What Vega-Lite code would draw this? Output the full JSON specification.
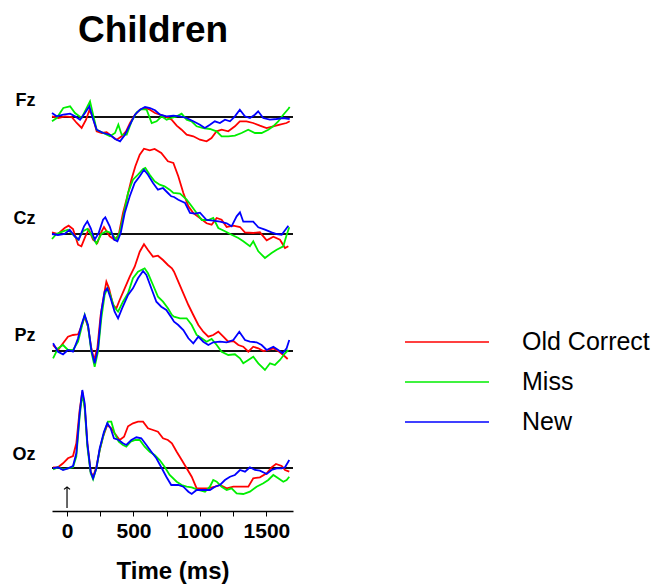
{
"$schema": "https://vega.github.io/schema/vega-lite/v6.json",
"padding": {"left": 11, "top": 12, "right": 2, "bottom": 5},
"title": {"text": "Children", "font": "Liberation Sans", "fontSize": 37, "fontWeight": "bold", "color": "black", "anchor": "start", "dx": 66, "offset": -7},
"data": {"values": [
{"ch":"Fz","cond":"Old Correct","t":-113,"v":0.07},{"ch":"Fz","cond":"Old Correct","t":-65,"v":-0.1},{"ch":"Fz","cond":"Old Correct","t":-15,"v":0.07},{"ch":"Fz","cond":"Old Correct","t":35,"v":0},{"ch":"Fz","cond":"Old Correct","t":73,"v":-0.6},{"ch":"Fz","cond":"Old Correct","t":110,"v":-1.1},{"ch":"Fz","cond":"Old Correct","t":143,"v":-0.27},{"ch":"Fz","cond":"Old Correct","t":168,"v":0.67},{"ch":"Fz","cond":"Old Correct","t":193,"v":0.07},{"ch":"Fz","cond":"Old Correct","t":223,"v":-1.43},{"ch":"Fz","cond":"Old Correct","t":261,"v":-1.6},{"ch":"Fz","cond":"Old Correct","t":298,"v":-1.53},{"ch":"Fz","cond":"Old Correct","t":336,"v":-1.93},{"ch":"Fz","cond":"Old Correct","t":374,"v":-2.27},{"ch":"Fz","cond":"Old Correct","t":411,"v":-1.93},{"ch":"Fz","cond":"Old Correct","t":444,"v":-1.43},{"ch":"Fz","cond":"Old Correct","t":474,"v":-0.6},{"ch":"Fz","cond":"Old Correct","t":511,"v":0.23},{"ch":"Fz","cond":"Old Correct","t":549,"v":0.73},{"ch":"Fz","cond":"Old Correct","t":587,"v":0.9},{"ch":"Fz","cond":"Old Correct","t":624,"v":0.73},{"ch":"Fz","cond":"Old Correct","t":662,"v":0.4},{"ch":"Fz","cond":"Old Correct","t":700,"v":0.23},{"ch":"Fz","cond":"Old Correct","t":737,"v":0.07},{"ch":"Fz","cond":"Old Correct","t":787,"v":-0.27},{"ch":"Fz","cond":"Old Correct","t":825,"v":-0.87},{"ch":"Fz","cond":"Old Correct","t":862,"v":-1.27},{"ch":"Fz","cond":"Old Correct","t":900,"v":-1.77},{"ch":"Fz","cond":"Old Correct","t":950,"v":-1.93},{"ch":"Fz","cond":"Old Correct","t":1000,"v":-2.27},{"ch":"Fz","cond":"Old Correct","t":1050,"v":-2.43},{"ch":"Fz","cond":"Old Correct","t":1087,"v":-2.1},{"ch":"Fz","cond":"Old Correct","t":1125,"v":-1.43},{"ch":"Fz","cond":"Old Correct","t":1163,"v":-1.27},{"ch":"Fz","cond":"Old Correct","t":1213,"v":-1.43},{"ch":"Fz","cond":"Old Correct","t":1263,"v":-0.93},{"ch":"Fz","cond":"Old Correct","t":1300,"v":-0.43},{"ch":"Fz","cond":"Old Correct","t":1350,"v":-0.43},{"ch":"Fz","cond":"Old Correct","t":1400,"v":-0.6},{"ch":"Fz","cond":"Old Correct","t":1451,"v":-0.87},{"ch":"Fz","cond":"Old Correct","t":1501,"v":-1.1},{"ch":"Fz","cond":"Old Correct","t":1551,"v":-0.93},{"ch":"Fz","cond":"Old Correct","t":1601,"v":-0.77},{"ch":"Fz","cond":"Old Correct","t":1651,"v":-0.6},{"ch":"Fz","cond":"Old Correct","t":1675,"v":-0.43},
{"ch":"Fz","cond":"Miss","t":-113,"v":-0.43},{"ch":"Fz","cond":"Miss","t":-78,"v":-0.1},{"ch":"Fz","cond":"Miss","t":-28,"v":0.9},{"ch":"Fz","cond":"Miss","t":23,"v":1.07},{"ch":"Fz","cond":"Miss","t":60,"v":0.4},{"ch":"Fz","cond":"Miss","t":110,"v":-0.1},{"ch":"Fz","cond":"Miss","t":148,"v":0.9},{"ch":"Fz","cond":"Miss","t":173,"v":1.57},{"ch":"Fz","cond":"Miss","t":193,"v":0.4},{"ch":"Fz","cond":"Miss","t":223,"v":-1.27},{"ch":"Fz","cond":"Miss","t":273,"v":-1.6},{"ch":"Fz","cond":"Miss","t":323,"v":-1.93},{"ch":"Fz","cond":"Miss","t":361,"v":-1.6},{"ch":"Fz","cond":"Miss","t":386,"v":-0.77},{"ch":"Fz","cond":"Miss","t":411,"v":-1.77},{"ch":"Fz","cond":"Miss","t":449,"v":-1.77},{"ch":"Fz","cond":"Miss","t":486,"v":-0.43},{"ch":"Fz","cond":"Miss","t":524,"v":0.47},{"ch":"Fz","cond":"Miss","t":561,"v":0.8},{"ch":"Fz","cond":"Miss","t":599,"v":0.73},{"ch":"Fz","cond":"Miss","t":637,"v":-0.6},{"ch":"Fz","cond":"Miss","t":674,"v":-0.43},{"ch":"Fz","cond":"Miss","t":712,"v":0.07},{"ch":"Fz","cond":"Miss","t":749,"v":-0.27},{"ch":"Fz","cond":"Miss","t":787,"v":-0.1},{"ch":"Fz","cond":"Miss","t":825,"v":0.07},{"ch":"Fz","cond":"Miss","t":862,"v":0.33},{"ch":"Fz","cond":"Miss","t":900,"v":-0.27},{"ch":"Fz","cond":"Miss","t":937,"v":-0.43},{"ch":"Fz","cond":"Miss","t":975,"v":-0.93},{"ch":"Fz","cond":"Miss","t":1025,"v":-1.1},{"ch":"Fz","cond":"Miss","t":1075,"v":-1.2},{"ch":"Fz","cond":"Miss","t":1125,"v":-1.43},{"ch":"Fz","cond":"Miss","t":1163,"v":-1.93},{"ch":"Fz","cond":"Miss","t":1213,"v":-1.93},{"ch":"Fz","cond":"Miss","t":1263,"v":-1.87},{"ch":"Fz","cond":"Miss","t":1313,"v":-1.6},{"ch":"Fz","cond":"Miss","t":1363,"v":-1.27},{"ch":"Fz","cond":"Miss","t":1414,"v":-1.6},{"ch":"Fz","cond":"Miss","t":1464,"v":-1.6},{"ch":"Fz","cond":"Miss","t":1514,"v":-1.27},{"ch":"Fz","cond":"Miss","t":1551,"v":-0.93},{"ch":"Fz","cond":"Miss","t":1589,"v":-0.43},{"ch":"Fz","cond":"Miss","t":1627,"v":0.23},{"ch":"Fz","cond":"Miss","t":1664,"v":0.8},{"ch":"Fz","cond":"Miss","t":1675,"v":1.0},
{"ch":"Fz","cond":"New","t":-113,"v":0.4},{"ch":"Fz","cond":"New","t":-78,"v":0.07},{"ch":"Fz","cond":"New","t":-28,"v":0.23},{"ch":"Fz","cond":"New","t":23,"v":0.33},{"ch":"Fz","cond":"New","t":60,"v":0.07},{"ch":"Fz","cond":"New","t":98,"v":-0.27},{"ch":"Fz","cond":"New","t":135,"v":0.4},{"ch":"Fz","cond":"New","t":168,"v":1.07},{"ch":"Fz","cond":"New","t":193,"v":-0.1},{"ch":"Fz","cond":"New","t":223,"v":-1.27},{"ch":"Fz","cond":"New","t":273,"v":-1.6},{"ch":"Fz","cond":"New","t":323,"v":-1.77},{"ch":"Fz","cond":"New","t":361,"v":-2.2},{"ch":"Fz","cond":"New","t":399,"v":-2.43},{"ch":"Fz","cond":"New","t":436,"v":-1.77},{"ch":"Fz","cond":"New","t":474,"v":-0.77},{"ch":"Fz","cond":"New","t":511,"v":0.23},{"ch":"Fz","cond":"New","t":549,"v":0.73},{"ch":"Fz","cond":"New","t":587,"v":1.0},{"ch":"Fz","cond":"New","t":624,"v":0.9},{"ch":"Fz","cond":"New","t":662,"v":0.67},{"ch":"Fz","cond":"New","t":700,"v":0.23},{"ch":"Fz","cond":"New","t":749,"v":0.07},{"ch":"Fz","cond":"New","t":800,"v":0.13},{"ch":"Fz","cond":"New","t":850,"v":0.07},{"ch":"Fz","cond":"New","t":900,"v":-0.1},{"ch":"Fz","cond":"New","t":950,"v":-0.43},{"ch":"Fz","cond":"New","t":1000,"v":-0.77},{"ch":"Fz","cond":"New","t":1037,"v":-1.1},{"ch":"Fz","cond":"New","t":1075,"v":-0.77},{"ch":"Fz","cond":"New","t":1112,"v":-0.43},{"ch":"Fz","cond":"New","t":1150,"v":-0.6},{"ch":"Fz","cond":"New","t":1188,"v":-0.27},{"ch":"Fz","cond":"New","t":1226,"v":-0.43},{"ch":"Fz","cond":"New","t":1263,"v":0.07},{"ch":"Fz","cond":"New","t":1300,"v":0.73},{"ch":"Fz","cond":"New","t":1338,"v":0.07},{"ch":"Fz","cond":"New","t":1376,"v":-0.1},{"ch":"Fz","cond":"New","t":1413,"v":0.23},{"ch":"Fz","cond":"New","t":1438,"v":0.57},{"ch":"Fz","cond":"New","t":1476,"v":-0.1},{"ch":"Fz","cond":"New","t":1526,"v":-0.27},{"ch":"Fz","cond":"New","t":1576,"v":-0.2},{"ch":"Fz","cond":"New","t":1627,"v":-0.1},{"ch":"Fz","cond":"New","t":1675,"v":-0.2},
{"ch":"Cz","cond":"Old Correct","t":-113,"v":0.17},{"ch":"Cz","cond":"Old Correct","t":-68,"v":0},{"ch":"Cz","cond":"Old Correct","t":-18,"v":0.6},{"ch":"Cz","cond":"Old Correct","t":12,"v":0.83},{"ch":"Cz","cond":"Old Correct","t":45,"v":0.5},{"ch":"Cz","cond":"Old Correct","t":83,"v":-1.07},{"ch":"Cz","cond":"Old Correct","t":108,"v":-1.23},{"ch":"Cz","cond":"Old Correct","t":138,"v":-0.23},{"ch":"Cz","cond":"Old Correct","t":164,"v":0.43},{"ch":"Cz","cond":"Old Correct","t":196,"v":-0.57},{"ch":"Cz","cond":"Old Correct","t":228,"v":-0.9},{"ch":"Cz","cond":"Old Correct","t":258,"v":0.2},{"ch":"Cz","cond":"Old Correct","t":278,"v":0.7},{"ch":"Cz","cond":"Old Correct","t":321,"v":-0.23},{"ch":"Cz","cond":"Old Correct","t":358,"v":-0.57},{"ch":"Cz","cond":"Old Correct","t":389,"v":-0.07},{"ch":"Cz","cond":"Old Correct","t":421,"v":2.1},{"ch":"Cz","cond":"Old Correct","t":454,"v":3.77},{"ch":"Cz","cond":"Old Correct","t":484,"v":5.43},{"ch":"Cz","cond":"Old Correct","t":514,"v":6.77},{"ch":"Cz","cond":"Old Correct","t":547,"v":7.93},{"ch":"Cz","cond":"Old Correct","t":579,"v":8.53},{"ch":"Cz","cond":"Old Correct","t":622,"v":8.37},{"ch":"Cz","cond":"Old Correct","t":659,"v":8.5},{"ch":"Cz","cond":"Old Correct","t":709,"v":8.1},{"ch":"Cz","cond":"Old Correct","t":759,"v":7.27},{"ch":"Cz","cond":"Old Correct","t":800,"v":7.1},{"ch":"Cz","cond":"Old Correct","t":837,"v":5.77},{"ch":"Cz","cond":"Old Correct","t":875,"v":4.1},{"ch":"Cz","cond":"Old Correct","t":913,"v":2.77},{"ch":"Cz","cond":"Old Correct","t":950,"v":2.1},{"ch":"Cz","cond":"Old Correct","t":1000,"v":1.6},{"ch":"Cz","cond":"Old Correct","t":1050,"v":1.07},{"ch":"Cz","cond":"Old Correct","t":1088,"v":0.93},{"ch":"Cz","cond":"Old Correct","t":1126,"v":1.6},{"ch":"Cz","cond":"Old Correct","t":1163,"v":1.43},{"ch":"Cz","cond":"Old Correct","t":1201,"v":0.7},{"ch":"Cz","cond":"Old Correct","t":1251,"v":0.83},{"ch":"Cz","cond":"Old Correct","t":1301,"v":0.7},{"ch":"Cz","cond":"Old Correct","t":1338,"v":0.17},{"ch":"Cz","cond":"Old Correct","t":1401,"v":0.1},{"ch":"Cz","cond":"Old Correct","t":1451,"v":0.17},{"ch":"Cz","cond":"Old Correct","t":1502,"v":-0.63},{"ch":"Cz","cond":"Old Correct","t":1552,"v":-0.27},{"ch":"Cz","cond":"Old Correct","t":1602,"v":-0.57},{"ch":"Cz","cond":"Old Correct","t":1640,"v":-1.4},{"ch":"Cz","cond":"Old Correct","t":1665,"v":-1.23},
{"ch":"Cz","cond":"Miss","t":-113,"v":-0.5},{"ch":"Cz","cond":"Miss","t":-80,"v":0},{"ch":"Cz","cond":"Miss","t":-30,"v":0.27},{"ch":"Cz","cond":"Miss","t":7,"v":0.43},{"ch":"Cz","cond":"Miss","t":45,"v":-0.07},{"ch":"Cz","cond":"Miss","t":83,"v":-0.57},{"ch":"Cz","cond":"Miss","t":120,"v":0.27},{"ch":"Cz","cond":"Miss","t":153,"v":0.5},{"ch":"Cz","cond":"Miss","t":183,"v":-0.07},{"ch":"Cz","cond":"Miss","t":221,"v":-0.97},{"ch":"Cz","cond":"Miss","t":258,"v":0},{"ch":"Cz","cond":"Miss","t":296,"v":0.27},{"ch":"Cz","cond":"Miss","t":333,"v":0.1},{"ch":"Cz","cond":"Miss","t":371,"v":-0.57},{"ch":"Cz","cond":"Miss","t":396,"v":0.1},{"ch":"Cz","cond":"Miss","t":429,"v":2.1},{"ch":"Cz","cond":"Miss","t":459,"v":4.1},{"ch":"Cz","cond":"Miss","t":496,"v":5.43},{"ch":"Cz","cond":"Miss","t":534,"v":5.93},{"ch":"Cz","cond":"Miss","t":572,"v":6.5},{"ch":"Cz","cond":"Miss","t":589,"v":6.6},{"ch":"Cz","cond":"Miss","t":622,"v":5.93},{"ch":"Cz","cond":"Miss","t":659,"v":5.27},{"ch":"Cz","cond":"Miss","t":697,"v":4.93},{"ch":"Cz","cond":"Miss","t":734,"v":4.77},{"ch":"Cz","cond":"Miss","t":772,"v":4.43},{"ch":"Cz","cond":"Miss","t":800,"v":4.1},{"ch":"Cz","cond":"Miss","t":850,"v":4.03},{"ch":"Cz","cond":"Miss","t":900,"v":3.43},{"ch":"Cz","cond":"Miss","t":938,"v":2.77},{"ch":"Cz","cond":"Miss","t":975,"v":2.1},{"ch":"Cz","cond":"Miss","t":1013,"v":1.4},{"ch":"Cz","cond":"Miss","t":1063,"v":1.4},{"ch":"Cz","cond":"Miss","t":1100,"v":1.6},{"ch":"Cz","cond":"Miss","t":1138,"v":0.6},{"ch":"Cz","cond":"Miss","t":1188,"v":0.27},{"ch":"Cz","cond":"Miss","t":1238,"v":-0.07},{"ch":"Cz","cond":"Miss","t":1289,"v":-0.4},{"ch":"Cz","cond":"Miss","t":1326,"v":-0.73},{"ch":"Cz","cond":"Miss","t":1376,"v":-1.23},{"ch":"Cz","cond":"Miss","t":1401,"v":-0.73},{"ch":"Cz","cond":"Miss","t":1439,"v":-1.73},{"ch":"Cz","cond":"Miss","t":1489,"v":-2.4},{"ch":"Cz","cond":"Miss","t":1539,"v":-1.9},{"ch":"Cz","cond":"Miss","t":1577,"v":-1.57},{"ch":"Cz","cond":"Miss","t":1627,"v":-1.23},{"ch":"Cz","cond":"Miss","t":1652,"v":-0.1},{"ch":"Cz","cond":"Miss","t":1672,"v":0.67},
{"ch":"Cz","cond":"New","t":-113,"v":0},{"ch":"Cz","cond":"New","t":-68,"v":-0.1},{"ch":"Cz","cond":"New","t":-18,"v":0},{"ch":"Cz","cond":"New","t":20,"v":0.43},{"ch":"Cz","cond":"New","t":58,"v":-0.23},{"ch":"Cz","cond":"New","t":88,"v":-0.57},{"ch":"Cz","cond":"New","t":128,"v":0.77},{"ch":"Cz","cond":"New","t":153,"v":1.27},{"ch":"Cz","cond":"New","t":178,"v":0.6},{"ch":"Cz","cond":"New","t":208,"v":-0.57},{"ch":"Cz","cond":"New","t":238,"v":0.1},{"ch":"Cz","cond":"New","t":271,"v":1.43},{"ch":"Cz","cond":"New","t":288,"v":1.67},{"ch":"Cz","cond":"New","t":321,"v":0.77},{"ch":"Cz","cond":"New","t":354,"v":-0.57},{"ch":"Cz","cond":"New","t":379,"v":-0.73},{"ch":"Cz","cond":"New","t":404,"v":0.1},{"ch":"Cz","cond":"New","t":434,"v":2.1},{"ch":"Cz","cond":"New","t":472,"v":3.77},{"ch":"Cz","cond":"New","t":509,"v":5.1},{"ch":"Cz","cond":"New","t":547,"v":5.77},{"ch":"Cz","cond":"New","t":579,"v":6.43},{"ch":"Cz","cond":"New","t":609,"v":5.93},{"ch":"Cz","cond":"New","t":647,"v":5.1},{"ch":"Cz","cond":"New","t":684,"v":4.43},{"ch":"Cz","cond":"New","t":722,"v":4.6},{"ch":"Cz","cond":"New","t":759,"v":4.1},{"ch":"Cz","cond":"New","t":784,"v":3.77},{"ch":"Cz","cond":"New","t":805,"v":3.7},{"ch":"Cz","cond":"New","t":837,"v":3.43},{"ch":"Cz","cond":"New","t":888,"v":3.1},{"ch":"Cz","cond":"New","t":925,"v":2.1},{"ch":"Cz","cond":"New","t":963,"v":2.03},{"ch":"Cz","cond":"New","t":1000,"v":2.13},{"ch":"Cz","cond":"New","t":1050,"v":1.4},{"ch":"Cz","cond":"New","t":1100,"v":1.33},{"ch":"Cz","cond":"New","t":1151,"v":1.23},{"ch":"Cz","cond":"New","t":1201,"v":1.07},{"ch":"Cz","cond":"New","t":1238,"v":0.77},{"ch":"Cz","cond":"New","t":1276,"v":1.77},{"ch":"Cz","cond":"New","t":1301,"v":2.17},{"ch":"Cz","cond":"New","t":1326,"v":1.23},{"ch":"Cz","cond":"New","t":1364,"v":1.23},{"ch":"Cz","cond":"New","t":1401,"v":1.23},{"ch":"Cz","cond":"New","t":1439,"v":0.67},{"ch":"Cz","cond":"New","t":1489,"v":0.43},{"ch":"Cz","cond":"New","t":1539,"v":0.17},{"ch":"Cz","cond":"New","t":1577,"v":0},{"ch":"Cz","cond":"New","t":1615,"v":-0.07},{"ch":"Cz","cond":"New","t":1640,"v":0.37},{"ch":"Cz","cond":"New","t":1665,"v":0.83},
{"ch":"Pz","cond":"Old Correct","t":-105,"v":0.6},{"ch":"Pz","cond":"Old Correct","t":-68,"v":0.1},{"ch":"Pz","cond":"Old Correct","t":-30,"v":0.77},{"ch":"Pz","cond":"Old Correct","t":7,"v":1.43},{"ch":"Pz","cond":"Old Correct","t":45,"v":1.6},{"ch":"Pz","cond":"Old Correct","t":83,"v":1.67},{"ch":"Pz","cond":"Old Correct","t":108,"v":2.43},{"ch":"Pz","cond":"Old Correct","t":133,"v":3.43},{"ch":"Pz","cond":"Old Correct","t":158,"v":2.43},{"ch":"Pz","cond":"Old Correct","t":183,"v":0.27},{"ch":"Pz","cond":"Old Correct","t":203,"v":-0.9},{"ch":"Pz","cond":"Old Correct","t":228,"v":0.27},{"ch":"Pz","cond":"Old Correct","t":253,"v":3.6},{"ch":"Pz","cond":"Old Correct","t":278,"v":5.6},{"ch":"Pz","cond":"Old Correct","t":296,"v":6.93},{"ch":"Pz","cond":"Old Correct","t":316,"v":6.27},{"ch":"Pz","cond":"Old Correct","t":346,"v":4.6},{"ch":"Pz","cond":"Old Correct","t":371,"v":4.27},{"ch":"Pz","cond":"Old Correct","t":396,"v":5.1},{"ch":"Pz","cond":"Old Correct","t":434,"v":6.27},{"ch":"Pz","cond":"Old Correct","t":472,"v":7.43},{"ch":"Pz","cond":"Old Correct","t":509,"v":8.43},{"ch":"Pz","cond":"Old Correct","t":547,"v":9.93},{"ch":"Pz","cond":"Old Correct","t":579,"v":10.67},{"ch":"Pz","cond":"Old Correct","t":609,"v":10.1},{"ch":"Pz","cond":"Old Correct","t":647,"v":9.43},{"ch":"Pz","cond":"Old Correct","t":684,"v":9.53},{"ch":"Pz","cond":"Old Correct","t":722,"v":9.1},{"ch":"Pz","cond":"Old Correct","t":759,"v":8.6},{"ch":"Pz","cond":"Old Correct","t":789,"v":8.27},{"ch":"Pz","cond":"Old Correct","t":805,"v":7.93},{"ch":"Pz","cond":"Old Correct","t":837,"v":6.93},{"ch":"Pz","cond":"Old Correct","t":875,"v":5.77},{"ch":"Pz","cond":"Old Correct","t":913,"v":4.6},{"ch":"Pz","cond":"Old Correct","t":950,"v":3.6},{"ch":"Pz","cond":"Old Correct","t":988,"v":2.6},{"ch":"Pz","cond":"Old Correct","t":1025,"v":1.93},{"ch":"Pz","cond":"Old Correct","t":1063,"v":1.43},{"ch":"Pz","cond":"Old Correct","t":1100,"v":1.6},{"ch":"Pz","cond":"Old Correct","t":1138,"v":1.93},{"ch":"Pz","cond":"Old Correct","t":1176,"v":1.43},{"ch":"Pz","cond":"Old Correct","t":1213,"v":0.93},{"ch":"Pz","cond":"Old Correct","t":1251,"v":1.0},{"ch":"Pz","cond":"Old Correct","t":1289,"v":0.6},{"ch":"Pz","cond":"Old Correct","t":1326,"v":0.43},{"ch":"Pz","cond":"Old Correct","t":1364,"v":-0.07},{"ch":"Pz","cond":"Old Correct","t":1401,"v":0.43},{"ch":"Pz","cond":"Old Correct","t":1439,"v":0.27},{"ch":"Pz","cond":"Old Correct","t":1477,"v":0},{"ch":"Pz","cond":"Old Correct","t":1514,"v":0.1},{"ch":"Pz","cond":"Old Correct","t":1552,"v":0.27},{"ch":"Pz","cond":"Old Correct","t":1589,"v":0},{"ch":"Pz","cond":"Old Correct","t":1627,"v":-0.4},{"ch":"Pz","cond":"Old Correct","t":1660,"v":-0.8},
{"ch":"Pz","cond":"Miss","t":-105,"v":-0.73},{"ch":"Pz","cond":"Miss","t":-68,"v":0.27},{"ch":"Pz","cond":"Miss","t":-30,"v":0.6},{"ch":"Pz","cond":"Miss","t":7,"v":0.1},{"ch":"Pz","cond":"Miss","t":45,"v":0.1},{"ch":"Pz","cond":"Miss","t":83,"v":0.93},{"ch":"Pz","cond":"Miss","t":108,"v":2.27},{"ch":"Pz","cond":"Miss","t":133,"v":3.6},{"ch":"Pz","cond":"Miss","t":158,"v":2.43},{"ch":"Pz","cond":"Miss","t":183,"v":-0.07},{"ch":"Pz","cond":"Miss","t":208,"v":-1.57},{"ch":"Pz","cond":"Miss","t":233,"v":-0.07},{"ch":"Pz","cond":"Miss","t":258,"v":3.27},{"ch":"Pz","cond":"Miss","t":283,"v":5.6},{"ch":"Pz","cond":"Miss","t":303,"v":6.27},{"ch":"Pz","cond":"Miss","t":321,"v":5.77},{"ch":"Pz","cond":"Miss","t":354,"v":4.43},{"ch":"Pz","cond":"Miss","t":384,"v":3.93},{"ch":"Pz","cond":"Miss","t":421,"v":4.93},{"ch":"Pz","cond":"Miss","t":459,"v":5.77},{"ch":"Pz","cond":"Miss","t":496,"v":7.27},{"ch":"Pz","cond":"Miss","t":534,"v":7.93},{"ch":"Pz","cond":"Miss","t":584,"v":8.27},{"ch":"Pz","cond":"Miss","t":609,"v":7.77},{"ch":"Pz","cond":"Miss","t":647,"v":6.6},{"ch":"Pz","cond":"Miss","t":684,"v":5.43},{"ch":"Pz","cond":"Miss","t":722,"v":4.93},{"ch":"Pz","cond":"Miss","t":759,"v":4.27},{"ch":"Pz","cond":"Miss","t":789,"v":3.6},{"ch":"Pz","cond":"Miss","t":805,"v":3.43},{"ch":"Pz","cond":"Miss","t":850,"v":3.27},{"ch":"Pz","cond":"Miss","t":900,"v":3.27},{"ch":"Pz","cond":"Miss","t":938,"v":2.6},{"ch":"Pz","cond":"Miss","t":975,"v":1.6},{"ch":"Pz","cond":"Miss","t":1013,"v":1.27},{"ch":"Pz","cond":"Miss","t":1050,"v":0.93},{"ch":"Pz","cond":"Miss","t":1088,"v":1.2},{"ch":"Pz","cond":"Miss","t":1126,"v":0.6},{"ch":"Pz","cond":"Miss","t":1163,"v":-0.07},{"ch":"Pz","cond":"Miss","t":1213,"v":-0.4},{"ch":"Pz","cond":"Miss","t":1263,"v":-0.33},{"ch":"Pz","cond":"Miss","t":1301,"v":-0.73},{"ch":"Pz","cond":"Miss","t":1326,"v":-1.23},{"ch":"Pz","cond":"Miss","t":1364,"v":-0.9},{"ch":"Pz","cond":"Miss","t":1401,"v":-0.57},{"ch":"Pz","cond":"Miss","t":1439,"v":-1.23},{"ch":"Pz","cond":"Miss","t":1489,"v":-1.9},{"ch":"Pz","cond":"Miss","t":1527,"v":-1.23},{"ch":"Pz","cond":"Miss","t":1564,"v":-1.4},{"ch":"Pz","cond":"Miss","t":1602,"v":-0.9},{"ch":"Pz","cond":"Miss","t":1640,"v":-0.23},{"ch":"Pz","cond":"Miss","t":1665,"v":0.1},
{"ch":"Pz","cond":"New","t":-105,"v":0.77},{"ch":"Pz","cond":"New","t":-68,"v":-0.07},{"ch":"Pz","cond":"New","t":-30,"v":-0.33},{"ch":"Pz","cond":"New","t":7,"v":0.1},{"ch":"Pz","cond":"New","t":45,"v":-0.07},{"ch":"Pz","cond":"New","t":83,"v":1.27},{"ch":"Pz","cond":"New","t":108,"v":2.6},{"ch":"Pz","cond":"New","t":133,"v":3.6},{"ch":"Pz","cond":"New","t":158,"v":2.6},{"ch":"Pz","cond":"New","t":183,"v":0.1},{"ch":"Pz","cond":"New","t":208,"v":-1.23},{"ch":"Pz","cond":"New","t":233,"v":0.27},{"ch":"Pz","cond":"New","t":258,"v":3.93},{"ch":"Pz","cond":"New","t":283,"v":5.93},{"ch":"Pz","cond":"New","t":303,"v":6.27},{"ch":"Pz","cond":"New","t":328,"v":5.27},{"ch":"Pz","cond":"New","t":358,"v":3.93},{"ch":"Pz","cond":"New","t":384,"v":3.27},{"ch":"Pz","cond":"New","t":414,"v":4.27},{"ch":"Pz","cond":"New","t":459,"v":5.6},{"ch":"Pz","cond":"New","t":496,"v":6.27},{"ch":"Pz","cond":"New","t":534,"v":7.27},{"ch":"Pz","cond":"New","t":572,"v":8.0},{"ch":"Pz","cond":"New","t":597,"v":7.6},{"ch":"Pz","cond":"New","t":634,"v":6.27},{"ch":"Pz","cond":"New","t":672,"v":4.93},{"ch":"Pz","cond":"New","t":709,"v":4.43},{"ch":"Pz","cond":"New","t":747,"v":4.1},{"ch":"Pz","cond":"New","t":789,"v":3.27},{"ch":"Pz","cond":"New","t":805,"v":2.93},{"ch":"Pz","cond":"New","t":837,"v":2.6},{"ch":"Pz","cond":"New","t":875,"v":2.1},{"ch":"Pz","cond":"New","t":913,"v":1.27},{"ch":"Pz","cond":"New","t":950,"v":0.77},{"ch":"Pz","cond":"New","t":988,"v":1.43},{"ch":"Pz","cond":"New","t":1025,"v":0.93},{"ch":"Pz","cond":"New","t":1063,"v":0.6},{"ch":"Pz","cond":"New","t":1100,"v":0.87},{"ch":"Pz","cond":"New","t":1151,"v":0.93},{"ch":"Pz","cond":"New","t":1201,"v":0.87},{"ch":"Pz","cond":"New","t":1251,"v":1.1},{"ch":"Pz","cond":"New","t":1296,"v":1.93},{"ch":"Pz","cond":"New","t":1339,"v":1.1},{"ch":"Pz","cond":"New","t":1376,"v":0.93},{"ch":"Pz","cond":"New","t":1426,"v":0.87},{"ch":"Pz","cond":"New","t":1464,"v":0.6},{"ch":"Pz","cond":"New","t":1502,"v":0.1},{"ch":"Pz","cond":"New","t":1552,"v":0.43},{"ch":"Pz","cond":"New","t":1589,"v":0.1},{"ch":"Pz","cond":"New","t":1622,"v":-0.23},{"ch":"Pz","cond":"New","t":1652,"v":0.27},{"ch":"Pz","cond":"New","t":1672,"v":1.1},
{"ch":"Oz","cond":"Old Correct","t":-105,"v":0.07},{"ch":"Oz","cond":"Old Correct","t":-68,"v":0.07},{"ch":"Oz","cond":"Old Correct","t":-30,"v":0.47},{"ch":"Oz","cond":"Old Correct","t":7,"v":0.97},{"ch":"Oz","cond":"Old Correct","t":45,"v":1.2},{"ch":"Oz","cond":"Old Correct","t":70,"v":2.47},{"ch":"Oz","cond":"Old Correct","t":95,"v":5.8},{"ch":"Oz","cond":"Old Correct","t":115,"v":7.63},{"ch":"Oz","cond":"Old Correct","t":133,"v":6.13},{"ch":"Oz","cond":"Old Correct","t":153,"v":2.47},{"ch":"Oz","cond":"Old Correct","t":178,"v":-0.37},{"ch":"Oz","cond":"Old Correct","t":196,"v":-0.87},{"ch":"Oz","cond":"Old Correct","t":221,"v":0.13},{"ch":"Oz","cond":"Old Correct","t":246,"v":1.8},{"ch":"Oz","cond":"Old Correct","t":271,"v":3.13},{"ch":"Oz","cond":"Old Correct","t":303,"v":4.3},{"ch":"Oz","cond":"Old Correct","t":333,"v":3.97},{"ch":"Oz","cond":"Old Correct","t":358,"v":3.47},{"ch":"Oz","cond":"Old Correct","t":396,"v":2.8},{"ch":"Oz","cond":"Old Correct","t":429,"v":3.13},{"ch":"Oz","cond":"Old Correct","t":459,"v":4.17},{"ch":"Oz","cond":"Old Correct","t":496,"v":4.47},{"ch":"Oz","cond":"Old Correct","t":534,"v":4.63},{"ch":"Oz","cond":"Old Correct","t":572,"v":4.63},{"ch":"Oz","cond":"Old Correct","t":609,"v":3.97},{"ch":"Oz","cond":"Old Correct","t":647,"v":3.8},{"ch":"Oz","cond":"Old Correct","t":684,"v":3.63},{"ch":"Oz","cond":"Old Correct","t":722,"v":2.97},{"ch":"Oz","cond":"Old Correct","t":759,"v":2.8},{"ch":"Oz","cond":"Old Correct","t":789,"v":2.47},{"ch":"Oz","cond":"Old Correct","t":825,"v":1.63},{"ch":"Oz","cond":"Old Correct","t":863,"v":0.8},{"ch":"Oz","cond":"Old Correct","t":900,"v":-0.03},{"ch":"Oz","cond":"Old Correct","t":938,"v":-0.87},{"ch":"Oz","cond":"Old Correct","t":975,"v":-2.03},{"ch":"Oz","cond":"Old Correct","t":1013,"v":-2.03},{"ch":"Oz","cond":"Old Correct","t":1063,"v":-2.03},{"ch":"Oz","cond":"Old Correct","t":1113,"v":-1.87},{"ch":"Oz","cond":"Old Correct","t":1151,"v":-1.7},{"ch":"Oz","cond":"Old Correct","t":1201,"v":-2.03},{"ch":"Oz","cond":"Old Correct","t":1251,"v":-1.87},{"ch":"Oz","cond":"Old Correct","t":1301,"v":-1.87},{"ch":"Oz","cond":"Old Correct","t":1364,"v":-1.87},{"ch":"Oz","cond":"Old Correct","t":1401,"v":-1.03},{"ch":"Oz","cond":"Old Correct","t":1451,"v":-0.93},{"ch":"Oz","cond":"Old Correct","t":1502,"v":-0.53},{"ch":"Oz","cond":"Old Correct","t":1539,"v":0.07},{"ch":"Oz","cond":"Old Correct","t":1572,"v":0.4},{"ch":"Oz","cond":"Old Correct","t":1615,"v":0.2},{"ch":"Oz","cond":"Old Correct","t":1640,"v":-0.2},{"ch":"Oz","cond":"Old Correct","t":1672,"v":-0.37},
{"ch":"Oz","cond":"Miss","t":-105,"v":-0.13},{"ch":"Oz","cond":"Miss","t":-68,"v":0.07},{"ch":"Oz","cond":"Miss","t":-30,"v":-0.13},{"ch":"Oz","cond":"Miss","t":7,"v":-0.03},{"ch":"Oz","cond":"Miss","t":45,"v":0.07},{"ch":"Oz","cond":"Miss","t":70,"v":1.13},{"ch":"Oz","cond":"Miss","t":95,"v":5.13},{"ch":"Oz","cond":"Miss","t":115,"v":7.47},{"ch":"Oz","cond":"Miss","t":133,"v":5.97},{"ch":"Oz","cond":"Miss","t":153,"v":2.13},{"ch":"Oz","cond":"Miss","t":178,"v":-0.53},{"ch":"Oz","cond":"Miss","t":196,"v":-1.13},{"ch":"Oz","cond":"Miss","t":221,"v":-0.03},{"ch":"Oz","cond":"Miss","t":246,"v":1.8},{"ch":"Oz","cond":"Miss","t":278,"v":3.47},{"ch":"Oz","cond":"Miss","t":308,"v":4.63},{"ch":"Oz","cond":"Miss","t":333,"v":4.63},{"ch":"Oz","cond":"Miss","t":358,"v":3.47},{"ch":"Oz","cond":"Miss","t":389,"v":2.63},{"ch":"Oz","cond":"Miss","t":421,"v":2.3},{"ch":"Oz","cond":"Miss","t":446,"v":2.13},{"ch":"Oz","cond":"Miss","t":479,"v":2.63},{"ch":"Oz","cond":"Miss","t":514,"v":2.8},{"ch":"Oz","cond":"Miss","t":547,"v":2.8},{"ch":"Oz","cond":"Miss","t":584,"v":2.13},{"ch":"Oz","cond":"Miss","t":622,"v":1.63},{"ch":"Oz","cond":"Miss","t":659,"v":1.3},{"ch":"Oz","cond":"Miss","t":697,"v":0.8},{"ch":"Oz","cond":"Miss","t":734,"v":0.13},{"ch":"Oz","cond":"Miss","t":772,"v":-0.7},{"ch":"Oz","cond":"Miss","t":825,"v":-1.37},{"ch":"Oz","cond":"Miss","t":863,"v":-1.7},{"ch":"Oz","cond":"Miss","t":900,"v":-1.87},{"ch":"Oz","cond":"Miss","t":938,"v":-1.93},{"ch":"Oz","cond":"Miss","t":988,"v":-2.2},{"ch":"Oz","cond":"Miss","t":1038,"v":-2.37},{"ch":"Oz","cond":"Miss","t":1075,"v":-1.87},{"ch":"Oz","cond":"Miss","t":1100,"v":-1.2},{"ch":"Oz","cond":"Miss","t":1126,"v":-1.37},{"ch":"Oz","cond":"Miss","t":1163,"v":-1.87},{"ch":"Oz","cond":"Miss","t":1201,"v":-2.2},{"ch":"Oz","cond":"Miss","t":1238,"v":-2.03},{"ch":"Oz","cond":"Miss","t":1276,"v":-2.53},{"ch":"Oz","cond":"Miss","t":1326,"v":-2.6},{"ch":"Oz","cond":"Miss","t":1376,"v":-2.37},{"ch":"Oz","cond":"Miss","t":1426,"v":-1.87},{"ch":"Oz","cond":"Miss","t":1477,"v":-1.53},{"ch":"Oz","cond":"Miss","t":1514,"v":-1.2},{"ch":"Oz","cond":"Miss","t":1552,"v":-0.7},{"ch":"Oz","cond":"Miss","t":1589,"v":-1.03},{"ch":"Oz","cond":"Miss","t":1627,"v":-1.37},{"ch":"Oz","cond":"Miss","t":1652,"v":-1.2},{"ch":"Oz","cond":"Miss","t":1672,"v":-0.87},
{"ch":"Oz","cond":"New","t":-105,"v":-0.03},{"ch":"Oz","cond":"New","t":-68,"v":0.07},{"ch":"Oz","cond":"New","t":-30,"v":-0.2},{"ch":"Oz","cond":"New","t":7,"v":-0.03},{"ch":"Oz","cond":"New","t":45,"v":0.2},{"ch":"Oz","cond":"New","t":70,"v":1.47},{"ch":"Oz","cond":"New","t":95,"v":5.47},{"ch":"Oz","cond":"New","t":115,"v":7.8},{"ch":"Oz","cond":"New","t":133,"v":6.47},{"ch":"Oz","cond":"New","t":153,"v":2.47},{"ch":"Oz","cond":"New","t":178,"v":-0.37},{"ch":"Oz","cond":"New","t":196,"v":-1.03},{"ch":"Oz","cond":"New","t":221,"v":-0.03},{"ch":"Oz","cond":"New","t":246,"v":1.97},{"ch":"Oz","cond":"New","t":278,"v":3.63},{"ch":"Oz","cond":"New","t":303,"v":4.47},{"ch":"Oz","cond":"New","t":328,"v":3.97},{"ch":"Oz","cond":"New","t":353,"v":2.97},{"ch":"Oz","cond":"New","t":389,"v":2.8},{"ch":"Oz","cond":"New","t":421,"v":2.47},{"ch":"Oz","cond":"New","t":446,"v":2.3},{"ch":"Oz","cond":"New","t":484,"v":2.8},{"ch":"Oz","cond":"New","t":522,"v":3.07},{"ch":"Oz","cond":"New","t":559,"v":2.97},{"ch":"Oz","cond":"New","t":597,"v":2.3},{"ch":"Oz","cond":"New","t":634,"v":1.63},{"ch":"Oz","cond":"New","t":672,"v":0.97},{"ch":"Oz","cond":"New","t":709,"v":0.07},{"ch":"Oz","cond":"New","t":747,"v":-0.87},{"ch":"Oz","cond":"New","t":784,"v":-1.7},{"ch":"Oz","cond":"New","t":837,"v":-1.7},{"ch":"Oz","cond":"New","t":875,"v":-1.87},{"ch":"Oz","cond":"New","t":913,"v":-2.37},{"ch":"Oz","cond":"New","t":938,"v":-2.6},{"ch":"Oz","cond":"New","t":975,"v":-2.2},{"ch":"Oz","cond":"New","t":1025,"v":-2.2},{"ch":"Oz","cond":"New","t":1075,"v":-2.2},{"ch":"Oz","cond":"New","t":1113,"v":-1.87},{"ch":"Oz","cond":"New","t":1151,"v":-1.7},{"ch":"Oz","cond":"New","t":1188,"v":-1.2},{"ch":"Oz","cond":"New","t":1226,"v":-0.87},{"ch":"Oz","cond":"New","t":1263,"v":-0.7},{"ch":"Oz","cond":"New","t":1301,"v":-0.2},{"ch":"Oz","cond":"New","t":1339,"v":-0.37},{"ch":"Oz","cond":"New","t":1376,"v":0.07},{"ch":"Oz","cond":"New","t":1414,"v":-0.2},{"ch":"Oz","cond":"New","t":1451,"v":-0.27},{"ch":"Oz","cond":"New","t":1502,"v":-0.6},{"ch":"Oz","cond":"New","t":1539,"v":-0.2},{"ch":"Oz","cond":"New","t":1577,"v":-0.03},{"ch":"Oz","cond":"New","t":1615,"v":-0.03},{"ch":"Oz","cond":"New","t":1640,"v":0.07},{"ch":"Oz","cond":"New","t":1672,"v":0.8},
{"ch":"Oz","cond":"onset","t":0,"v":-1.9,"v2":-4.0}
]},
"spacing": 0,
"bounds": "flush",
"vconcat": [
 {"width": 241, "height": 117, "transform": [{"filter": "datum.ch === 'Fz'"}],
  "layer": [
   {"data": {"values": [{}]}, "mark": {"type": "rule", "color": "#111111", "strokeWidth": 2}, "encoding": {"y": {"datum": 0, "type": "quantitative"}}},
   {"mark": {"type": "line", "strokeWidth": 1.8, "clip": false},
    "encoding": {
     "x": {"field": "t", "type": "quantitative", "scale": {"domain": [-113, 1700], "nice": false, "zero": false}, "axis": null},
     "y": {"field": "v", "type": "quantitative", "scale": {"domain": [-4.3, 7.4], "nice": false, "zero": false},
       "axis": {"title": "Fz", "titleAngle": 0, "titleFont": "Liberation Sans", "titleFontSize": 18, "titleFontWeight": "bold", "titleColor": "black", "titleAlign": "right", "titleBaseline": "middle", "titleX": -17, "titleY": 57, "domain": false, "ticks": false, "labels": false, "grid": false}},
     "color": {"field": "cond", "type": "nominal", "scale": {"domain": ["Old Correct", "Miss", "New"], "range": ["#ff0000", "#00ee00", "#0000ff"]},
       "legend": {"title": null, "orient": "none", "legendX": 352, "legendY": 286, "symbolType": "stroke", "symbolSize": 7056, "symbolStrokeWidth": 1.5, "clipHeight": 26, "rowPadding": 14, "labelFont": "Liberation Sans", "labelFontSize": 25, "labelColor": "black", "labelOffset": 32, "symbolOffset": 0}}}}
  ]},
 {"width": 241, "height": 117, "transform": [{"filter": "datum.ch === 'Cz'"}],
  "layer": [
   {"data": {"values": [{}]}, "mark": {"type": "rule", "color": "#111111", "strokeWidth": 2}, "encoding": {"y": {"datum": 0, "type": "quantitative"}}},
   {"mark": {"type": "line", "strokeWidth": 1.8, "clip": false},
    "encoding": {
     "x": {"field": "t", "type": "quantitative", "scale": {"domain": [-113, 1700], "nice": false, "zero": false}, "axis": null},
     "y": {"field": "v", "type": "quantitative", "scale": {"domain": [-4.3, 7.4], "nice": false, "zero": false},
       "axis": {"title": "Cz", "titleAngle": 0, "titleFont": "Liberation Sans", "titleFontSize": 18, "titleFontWeight": "bold", "titleColor": "black", "titleAlign": "right", "titleBaseline": "middle", "titleX": -17, "titleY": 58, "domain": false, "ticks": false, "labels": false, "grid": false}},
     "color": {"field": "cond", "type": "nominal", "scale": {"domain": ["Old Correct", "Miss", "New"], "range": ["#ff0000", "#00ee00", "#0000ff"]},
       "legend": {"title": null, "orient": "none", "legendX": 352, "legendY": 286, "symbolType": "stroke", "symbolSize": 7056, "symbolStrokeWidth": 1.5, "clipHeight": 26, "rowPadding": 14, "labelFont": "Liberation Sans", "labelFontSize": 25, "labelColor": "black", "labelOffset": 32, "symbolOffset": 0}}}}
  ]},
 {"width": 241, "height": 117, "transform": [{"filter": "datum.ch === 'Pz'"}],
  "layer": [
   {"data": {"values": [{}]}, "mark": {"type": "rule", "color": "#111111", "strokeWidth": 2}, "encoding": {"y": {"datum": 0, "type": "quantitative"}}},
   {"mark": {"type": "line", "strokeWidth": 1.8, "clip": false},
    "encoding": {
     "x": {"field": "t", "type": "quantitative", "scale": {"domain": [-113, 1700], "nice": false, "zero": false}, "axis": null},
     "y": {"field": "v", "type": "quantitative", "scale": {"domain": [-4.3, 7.4], "nice": false, "zero": false},
       "axis": {"title": "Pz", "titleAngle": 0, "titleFont": "Liberation Sans", "titleFontSize": 18, "titleFontWeight": "bold", "titleColor": "black", "titleAlign": "right", "titleBaseline": "middle", "titleX": -17, "titleY": 58, "domain": false, "ticks": false, "labels": false, "grid": false}},
     "color": {"field": "cond", "type": "nominal", "scale": {"domain": ["Old Correct", "Miss", "New"], "range": ["#ff0000", "#00ee00", "#0000ff"]},
       "legend": {"title": null, "orient": "none", "legendX": 352, "legendY": 286, "symbolType": "stroke", "symbolSize": 7056, "symbolStrokeWidth": 1.5, "clipHeight": 26, "rowPadding": 14, "labelFont": "Liberation Sans", "labelFontSize": 25, "labelColor": "black", "labelOffset": 32, "symbolOffset": 0}}}}
  ]},
 {"width": 241, "height": 117, "transform": [{"filter": "datum.ch === 'Oz'"}],
  "layer": [
   {"data": {"values": [{}]}, "mark": {"type": "rule", "color": "#111111", "strokeWidth": 2}, "encoding": {"y": {"datum": 0, "type": "quantitative"}}},
   {"transform": [{"filter": "datum.cond !== 'onset'"}], "mark": {"type": "line", "strokeWidth": 1.8, "clip": false},
    "encoding": {
     "x": {"field": "t", "type": "quantitative", "scale": {"domain": [-113, 1700], "nice": false, "zero": false},
       "axis": {"values": [0, 250, 500, 750, 1000, 1250, 1500], "format": "d", "labelExpr": "datum.value % 500 === 0 ? datum.label : ''",
         "title": "Time (ms)", "grid": false, "labelFont": "Liberation Sans", "labelFontSize": 21, "labelFontWeight": "bold",
         "titleFont": "Liberation Sans", "titleFontSize": 24, "titleFontWeight": "bold", "domainColor": "black", "tickColor": "black",
         "labelColor": "black", "titleColor": "black", "tickSize": 5, "labelPadding": 4, "titlePadding": 18, "domainWidth": 1.5,
         "labelFlush": false, "labelOverlap": false}},
     "y": {"field": "v", "type": "quantitative", "scale": {"domain": [-4.3, 7.4], "nice": false, "zero": false},
       "axis": {"title": "Oz", "titleAngle": 0, "titleFont": "Liberation Sans", "titleFontSize": 18, "titleFontWeight": "bold", "titleColor": "black", "titleAlign": "right", "titleBaseline": "middle", "titleX": -17, "titleY": 60, "domain": false, "ticks": false, "labels": false, "grid": false}},
     "color": {"field": "cond", "type": "nominal", "scale": {"domain": ["Old Correct", "Miss", "New"], "range": ["#ff0000", "#00ee00", "#0000ff"]},
       "legend": {"title": null, "orient": "none", "legendX": 352, "legendY": 286, "symbolType": "stroke", "symbolSize": 7056, "symbolStrokeWidth": 1.5, "clipHeight": 26, "rowPadding": 14, "labelFont": "Liberation Sans", "labelFontSize": 25, "labelColor": "black", "labelOffset": 32, "symbolOffset": 0}}}},
   {"transform": [{"filter": "datum.cond === 'onset'"}], "mark": {"type": "rule", "color": "black", "strokeWidth": 1.2, "clip": false},
    "encoding": {"x": {"field": "t", "type": "quantitative"}, "y": {"field": "v", "type": "quantitative"}, "y2": {"field": "v2"}}},
   {"transform": [{"filter": "datum.cond === 'onset'"}], "mark": {"type": "point", "shape": "M-1,0.8L0,0L1,0.8", "filled": false, "color": "black", "strokeWidth": 1.2, "size": 36, "opacity": 1, "clip": false},
    "encoding": {"x": {"field": "t", "type": "quantitative"}, "y": {"field": "v", "type": "quantitative"}}}
  ]}
],
"config": {"view": {"stroke": null}, "font": "Liberation Sans"}
}
